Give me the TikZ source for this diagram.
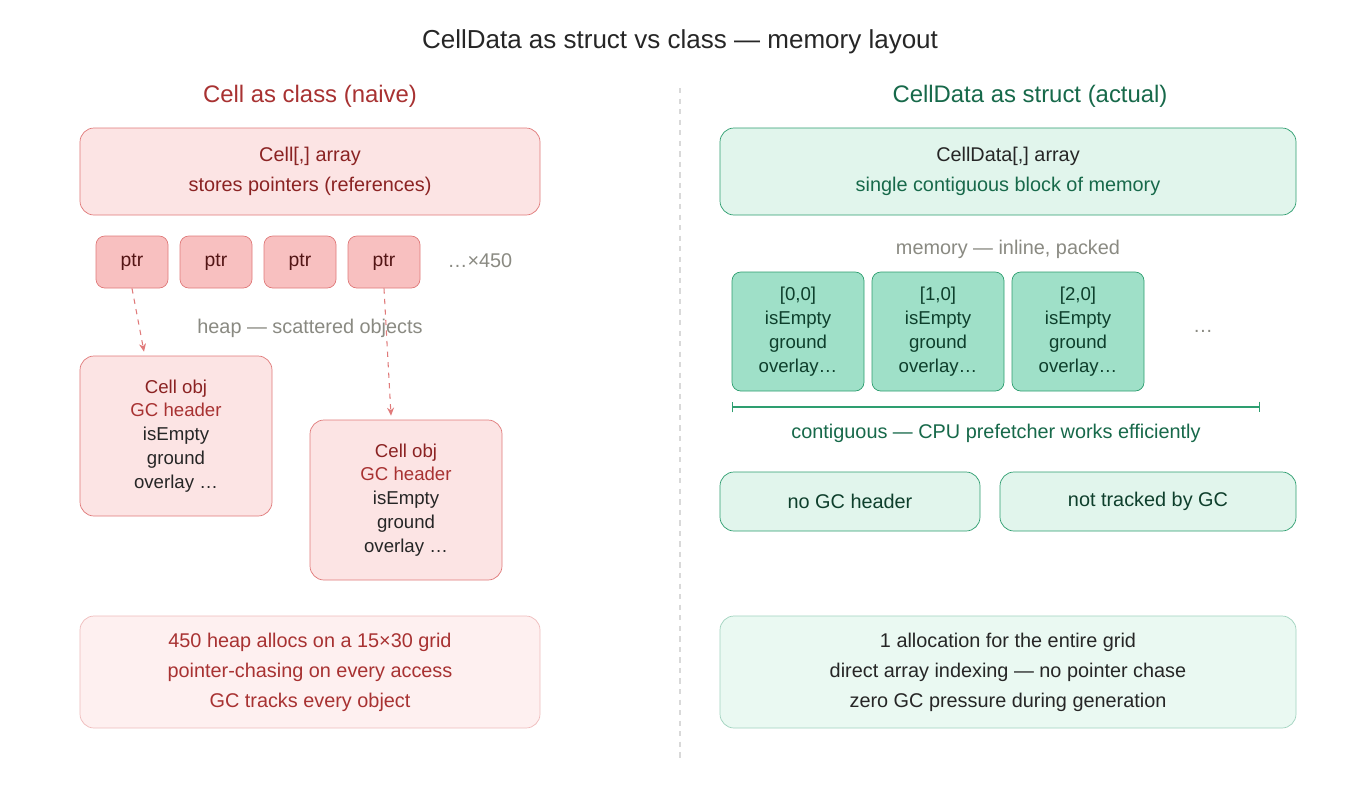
\documentclass[tikz,border=0pt]{standalone}
\usepackage{fontspec}
\setmainfont{Liberation Sans}
\usetikzlibrary{arrows.meta, calc}
\definecolor{redfill}{HTML}{FCE4E4}
\definecolor{redpale}{HTML}{FEF0F0}
\definecolor{reddraw}{HTML}{E07A7A}
\definecolor{redptr}{HTML}{F8C0C0}
\definecolor{redtext}{HTML}{8B2323}
\definecolor{redhead}{HTML}{A83232}
\definecolor{grnfill}{HTML}{E1F5EC}
\definecolor{grnpale}{HTML}{EAF9F2}
\definecolor{grndraw}{HTML}{2E9E70}
\definecolor{grncell}{HTML}{9FE0C8}
\definecolor{grntext}{HTML}{17694A}
\definecolor{grayt}{HTML}{8A8A82}
\tikzset{
        redbox/.style={rectangle, draw=reddraw, fill=redfill, rounded corners=8pt, text=redtext, align=center, font=\fontsize{11.3}{17}\selectfont},
        ptrbox/.style={rectangle, draw=reddraw, fill=redptr, rounded corners=5pt, text=redtext!60!black, minimum width=14.4mm, minimum height=10.4mm, font=\fontsize{11}{13}\selectfont},
        objbox/.style={redbox, minimum width=38.4mm, minimum height=32mm, font=\fontsize{10.6}{13.6}\selectfont},
        grnbox/.style={rectangle, draw=grndraw, fill=grnfill, rounded corners=8pt, text=grntext, align=center, font=\fontsize{11.3}{17}\selectfont},
        cellbox/.style={rectangle, draw=grndraw, fill=grncell, rounded corners=5pt, text=grntext!60!black, align=center, minimum width=26.4mm, minimum height=23.8mm, font=\fontsize{10.6}{13.6}\selectfont},
        note/.style={text=grayt, font=\fontsize{11.3}{13}\selectfont},
        arrow/.style={-{Stealth[length=1.6mm,width=1.4mm]}, reddraw, dashed, semithick},
    }
\begin{document}
\begin{tikzpicture}[x=0.2mm, y=-0.2mm]

        \fill[white] (0,0) rectangle (1360,800);
        \node[font=\fontsize{14.8}{17}\selectfont, text=black!85] (title) at (680,42) {CellData as struct vs class — memory layout};
        \draw[black!15, dashed, thick] (680,88) -- (680,760);

        % === CLASS SIDE ===
        \node[text=redhead, font=\fontsize{13.6}{16}\selectfont] (lhead) at (310,96) {Cell as class (naive)};
        \node[redbox, minimum width=92mm, minimum height=17.4mm] (lref) at (310,171.5) {Cell[,] array\\stores pointers (references)};
        \foreach \i/\x in {1/132, 2/216, 3/300, 4/384}
            \node[ptrbox] (p\i) at (\x,262) {ptr};
        \node[note] (more) at (480,261) {…×450};
        \node[note] (heap) at (310,328) {heap — scattered objects};

        \node[objbox] (o1) at (176,436) {Cell obj\\\textcolor{redhead}{GC header}\\\textcolor{black!85}{isEmpty}\\\textcolor{black!85}{ground}\\\textcolor{black!85}{overlay …}};
        \node[objbox] (o2) at (406,500) {Cell obj\\\textcolor{redhead}{GC header}\\\textcolor{black!85}{isEmpty}\\\textcolor{black!85}{ground}\\\textcolor{black!85}{overlay …}};

        \draw[arrow] (p1.south) -- ($(o1.north)+(-32,-4)$);
        \draw[arrow] (p4.south) -- ($(o2.north)+(-15,-4)$);

        \node[redbox, fill=redpale, draw=reddraw!50, text=redhead, minimum width=92mm, minimum height=22.4mm] (lsum) at (310,672) {450 heap allocs on a 15×30 grid\\pointer-chasing on every access\\GC tracks every object};

        % === STRUCT SIDE ===
        \node[text=grntext, font=\fontsize{13.6}{16}\selectfont] (rhead) at (1030,96) {CellData as struct (actual)};
        \node[grnbox, minimum width=115.2mm, minimum height=17.4mm] (rref) at (1008,171.5) {\textcolor{black!85}{CellData[,] array}\\single contiguous block of memory};
        \node[note] (mem) at (1008,249) {memory — inline, packed};
        \foreach \i/\x in {0/798, 1/938, 2/1078}
            \node[cellbox] (c\i) at (\x,331.5) {[\i,0]\\isEmpty\\ground\\overlay…};
        \node[note] (dots) at (1203,331) {…};

        \coordinate (bl) at (732,407);
        \coordinate (br) at (1260,407);
        \draw[grndraw, thick, |-|] (bl) -- (br);
        \node[text=grntext, font=\fontsize{11.3}{13}\selectfont] (contig) at (996,433) {contiguous — CPU prefetcher works efficiently};

        \node[grnbox, text=grntext!60!black, minimum width=52mm, minimum height=11.8mm] (nohdr) at (850,501.5) {no GC header};
        \node[grnbox, text=grntext!60!black, minimum width=59.2mm, minimum height=11.8mm] (notrk) at (1148,501.5) {not tracked by GC};

        \node[grnbox, fill=grnpale, draw=grndraw!45, text=black!85, minimum width=115.2mm, minimum height=22.4mm] (rsum) at (1008,672) {1 allocation for the entire grid\\direct array indexing — no pointer chase\\zero GC pressure during generation};

    \end{tikzpicture}
\end{document}
